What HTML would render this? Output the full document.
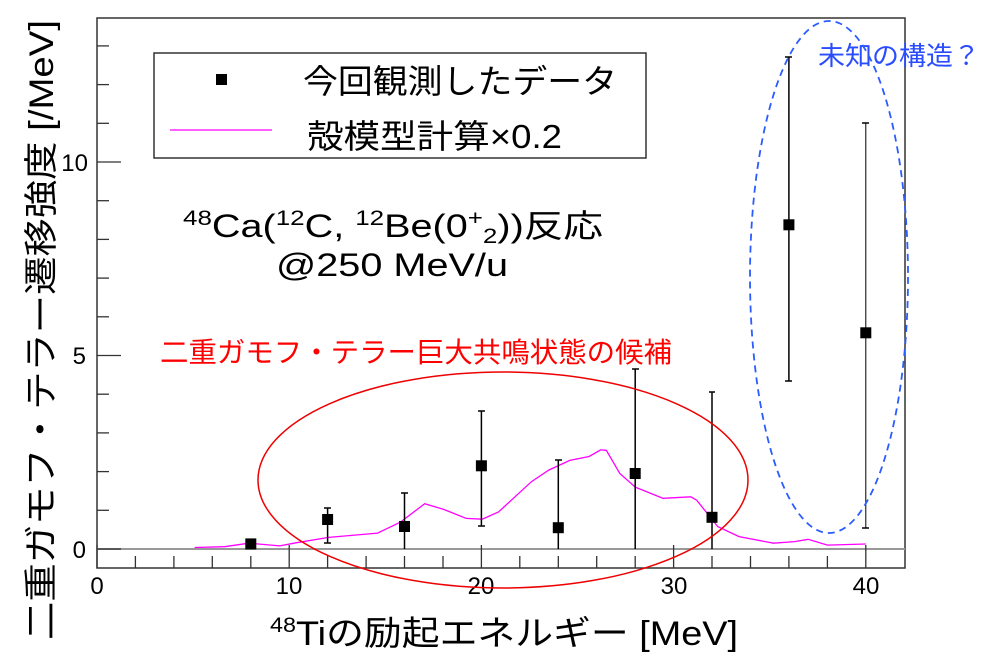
<!DOCTYPE html>
<html><head><meta charset="utf-8"><style>
html,body{margin:0;padding:0;background:#fff;}
svg{display:block;}
text{font-family:"Liberation Sans","Noto Sans CJK JP",sans-serif;}
</style></head><body>
<svg width="998" height="663" viewBox="0 0 998 663" xmlns="http://www.w3.org/2000/svg">
<rect x="97" y="18" width="808" height="550" fill="none" stroke="#333" stroke-width="1.5"/>
<line x1="97" y1="549" x2="905" y2="549" stroke="#999" stroke-width="2"/>
<g stroke="#333" stroke-width="1.3">
<line x1="97" y1="549" x2="121" y2="549"/>
<line x1="97" y1="510.3" x2="109" y2="510.3"/>
<line x1="97" y1="471.6" x2="109" y2="471.6"/>
<line x1="97" y1="432.9" x2="109" y2="432.9"/>
<line x1="97" y1="394.2" x2="109" y2="394.2"/>
<line x1="97" y1="355.5" x2="121" y2="355.5"/>
<line x1="97" y1="316.8" x2="109" y2="316.8"/>
<line x1="97" y1="278.1" x2="109" y2="278.1"/>
<line x1="97" y1="239.4" x2="109" y2="239.4"/>
<line x1="97" y1="200.7" x2="109" y2="200.7"/>
<line x1="97" y1="162" x2="121" y2="162"/>
<line x1="97" y1="123.3" x2="109" y2="123.3"/>
<line x1="97" y1="84.6" x2="109" y2="84.6"/>
<line x1="97" y1="45.9" x2="109" y2="45.9"/>
<line x1="97" y1="568" x2="97" y2="545"/>
<line x1="135.4" y1="568" x2="135.4" y2="556"/>
<line x1="173.9" y1="568" x2="173.9" y2="556"/>
<line x1="212.3" y1="568" x2="212.3" y2="556"/>
<line x1="250.8" y1="568" x2="250.8" y2="556"/>
<line x1="289.2" y1="568" x2="289.2" y2="545"/>
<line x1="327.6" y1="568" x2="327.6" y2="556"/>
<line x1="366.1" y1="568" x2="366.1" y2="556"/>
<line x1="404.5" y1="568" x2="404.5" y2="556"/>
<line x1="443" y1="568" x2="443" y2="556"/>
<line x1="481.4" y1="568" x2="481.4" y2="545"/>
<line x1="519.8" y1="568" x2="519.8" y2="556"/>
<line x1="558.3" y1="568" x2="558.3" y2="556"/>
<line x1="596.7" y1="568" x2="596.7" y2="556"/>
<line x1="635.2" y1="568" x2="635.2" y2="556"/>
<line x1="673.6" y1="568" x2="673.6" y2="545"/>
<line x1="712" y1="568" x2="712" y2="556"/>
<line x1="750.5" y1="568" x2="750.5" y2="556"/>
<line x1="788.9" y1="568" x2="788.9" y2="556"/>
<line x1="827.4" y1="568" x2="827.4" y2="556"/>
<line x1="865.8" y1="568" x2="865.8" y2="545"/>
</g>
<g font-size="24" fill="#000">
<text x="86" y="558" text-anchor="end">0</text>
<text x="86" y="364" text-anchor="end">5</text>
<text x="88" y="171" text-anchor="end">10</text>
<text x="97" y="594" text-anchor="middle">0</text>
<text x="289" y="594" text-anchor="middle">10</text>
<text x="481" y="594" text-anchor="middle">20</text>
<text x="674" y="594" text-anchor="middle">30</text>
<text x="866" y="594" text-anchor="middle">40</text>
</g>
<text x="270" y="645" font-size="34" textLength="468" lengthAdjust="spacingAndGlyphs"><tspan font-size="21" dy="-13">48</tspan><tspan dy="13">Tiの励起エネルギー [MeV]</tspan></text>
<text transform="translate(53,640) rotate(-90)" font-size="34" textLength="620" lengthAdjust="spacingAndGlyphs">二重ガモフ・テラー遷移強度 [/MeV]</text>

<polyline fill="none" stroke="#f0f" stroke-width="1.3" points="194.6,547.5 224.6,546.7 248.8,543.2 279.6,545.9 296,542.8 328.8,537.4 377.6,533.1 400.7,521.9 424.7,503.7 444,509.5 466.1,518.4 482.3,519.2 498.7,511.8 531.4,481.7 548.7,470.1 569.8,460.4 589.1,456.5 600.6,449.9 606.3,450.3 619.8,473.5 635.2,487.1 663,498.3 690.9,496.8 696.7,500.2 717.8,526.6 739,536.6 773.5,543.2 794.7,541.6 808.1,539.3 827.4,545.1 865.8,544"/>

<g stroke="#000" stroke-width="1.5">
<line x1="250.8" y1="549" x2="250.8" y2="543"/>
<line x1="327.6" y1="543" x2="327.6" y2="508"/><line x1="324" y1="543" x2="331" y2="543"/><line x1="324" y1="508" x2="331" y2="508"/>
<line x1="404.5" y1="549" x2="404.5" y2="493"/><line x1="401" y1="493" x2="408" y2="493"/>
<line x1="481.4" y1="526" x2="481.4" y2="411"/><line x1="478" y1="526" x2="485" y2="526"/><line x1="478" y1="411" x2="485" y2="411"/>
<line x1="558.3" y1="549" x2="558.3" y2="460"/><line x1="555" y1="460" x2="562" y2="460"/>
<line x1="635.2" y1="549" x2="635.2" y2="369"/><line x1="632" y1="369" x2="639" y2="369"/>
<line x1="712" y1="549" x2="712" y2="392"/><line x1="709" y1="392" x2="715" y2="392"/>
<line x1="788.9" y1="381" x2="788.9" y2="57"/><line x1="785" y1="381" x2="792" y2="381"/><line x1="785" y1="57" x2="792" y2="57"/>
<line x1="865.8" y1="528" x2="865.8" y2="123" stroke-width="1"/><line x1="862" y1="528" x2="869" y2="528"/><line x1="862" y1="123" x2="869" y2="123"/>
</g>
<g fill="#000">
<rect x="245.3" y="538.4" width="11" height="11"/>
<rect x="322.1" y="514" width="11" height="11"/>
<rect x="399" y="521" width="11" height="11"/>
<rect x="475.9" y="460.3" width="11" height="11"/>
<rect x="552.8" y="522.2" width="11" height="11"/>
<rect x="629.7" y="468" width="11" height="11"/>
<rect x="706.5" y="511.8" width="11" height="11"/>
<rect x="783.4" y="219.3" width="11" height="11"/>
<rect x="860.3" y="327.3" width="11" height="11"/>
</g>

<rect x="154" y="53" width="492" height="105" fill="#fff" stroke="#333" stroke-width="1.5"/>
<rect x="216" y="74" width="11" height="11" fill="#000"/>
<line x1="170" y1="130" x2="272" y2="130" stroke="#f0f" stroke-width="1.3"/>
<text x="303" y="93" font-size="33" textLength="314" lengthAdjust="spacingAndGlyphs">今回観測したデータ</text>
<text x="307" y="148" font-size="33" textLength="255" lengthAdjust="spacingAndGlyphs">殻模型計算×0.2</text>

<text x="183" y="237" font-size="32" textLength="420" lengthAdjust="spacingAndGlyphs"><tspan font-size="21" dy="-12">48</tspan><tspan dy="12">Ca(</tspan><tspan font-size="21" dy="-12">12</tspan><tspan dy="12">C, </tspan><tspan font-size="21" dy="-12">12</tspan><tspan dy="12">Be(0</tspan><tspan font-size="21" dy="-12">+</tspan><tspan font-size="21" dy="18">2</tspan><tspan dy="-6">))反応</tspan></text>
<text x="276" y="276" font-size="32" textLength="232" lengthAdjust="spacingAndGlyphs">@250 MeV/u</text>

<text x="160" y="362" font-size="28" fill="#f00" textLength="512" lengthAdjust="spacingAndGlyphs">二重ガモフ・テラー巨大共鳴状態の候補</text>
<text x="818" y="65" font-size="26" fill="#2a4cff" textLength="162" lengthAdjust="spacingAndGlyphs">未知の構造？</text>

<ellipse cx="503" cy="480" rx="245" ry="108" fill="none" stroke="#e00" stroke-width="1.5"/>
<ellipse cx="829" cy="277" rx="79" ry="256" fill="none" stroke="#2a5cff" stroke-width="1.8" stroke-dasharray="7,5"/>
</svg>
</body></html>
